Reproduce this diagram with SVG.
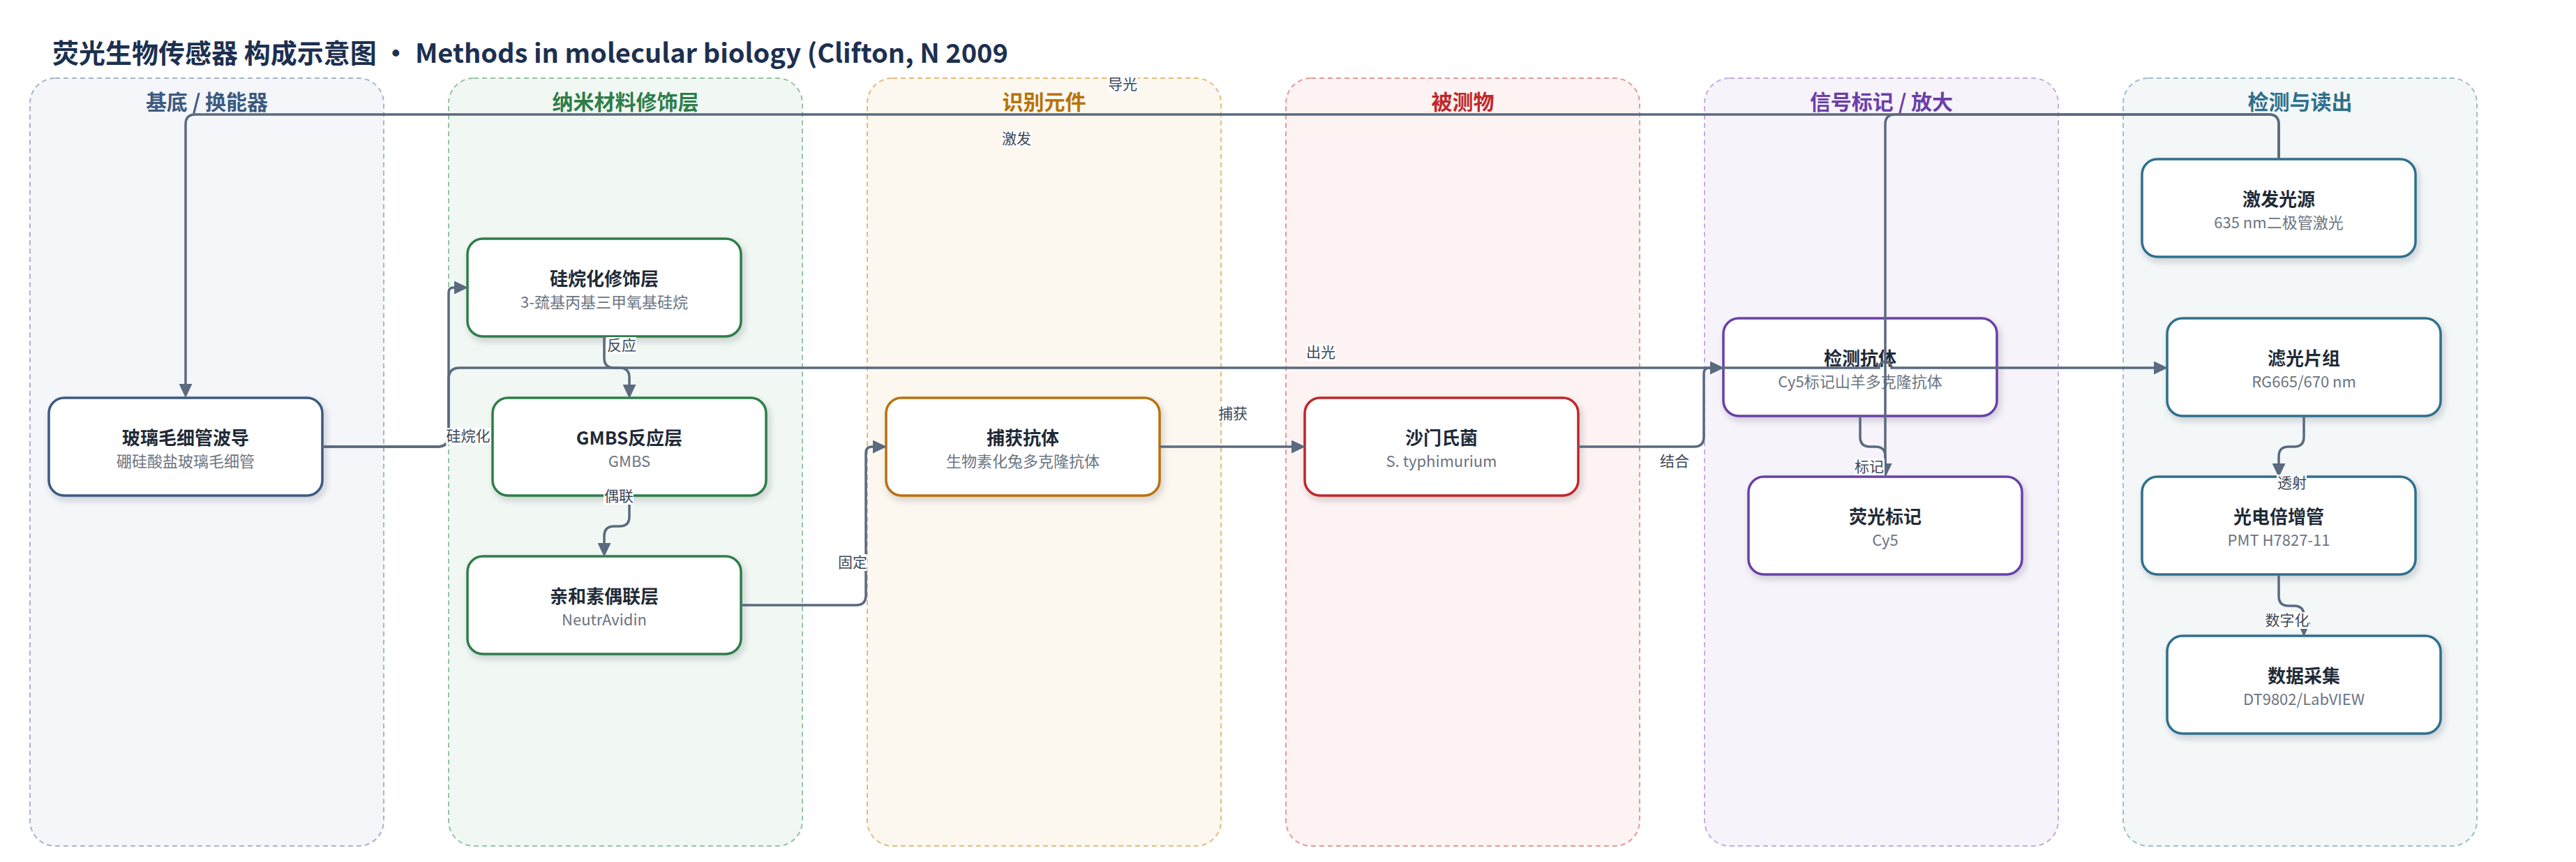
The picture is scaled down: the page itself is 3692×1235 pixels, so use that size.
<svg xmlns="http://www.w3.org/2000/svg" width="3692" height="1235" viewBox="0 0 3692 1235">
<defs>
<filter id="sh" x="-10%" y="-15%" width="125%" height="145%">
<feDropShadow dx="3" dy="5" stdDeviation="5" flood-color="#1e293b" flood-opacity="0.2"/>
</filter>
<marker id="arr" markerUnits="userSpaceOnUse" markerWidth="20" markerHeight="19" viewBox="0 0 20 19" refX="1" refY="9.5" orient="auto">
<path d="M0,0 L20,9.5 L0,19 z" fill="#5a6a80"/>
</marker>
<style>
text{font-family:"Noto Sans CJK SC","Noto Sans",sans-serif}
.title{font-size:38px;font-weight:700;fill:#1c3050}
.lane{stroke-width:2;stroke-dasharray:7 5}
.lt{font-size:30px;font-weight:700;text-anchor:middle}
.box{fill:#ffffff;stroke-width:3.5;filter:url(#sh)}
.nt{font-size:26px;font-weight:700;fill:#1f2a37;text-anchor:middle}
.ns{font-size:22px;fill:#6b7482;text-anchor:middle}
.e{fill:none;stroke:#5a6a80;stroke-width:3.5}
.lb{font-size:21px;fill:#3d4757;text-anchor:middle}
.lbg{fill:#ffffff}
</style>
</defs>
<rect width="3692" height="1235" fill="#ffffff"/>
<text class="title" x="75" y="90">荧光生物传感器 构成示意图 · Methods in molecular biology (Clifton, N 2009</text>

<g id="lanes">
<g id="lane-substrate">
<rect class="lane" x="43" y="112" width="507" height="1100" rx="36" fill="#f4f6fa" stroke="#a7b4c9"/>
<text class="lt" x="296.5" y="157" fill="#3d5a80">基底 / 换能器</text>
</g>
<g id="lane-nano">
<rect class="lane" x="643" y="112" width="507" height="1100" rx="36" fill="#f1f8f3" stroke="#93c4a3"/>
<text class="lt" x="896.5" y="157" fill="#2e7d4a">纳米材料修饰层</text>
</g>
<g id="lane-recog">
<rect class="lane" x="1243" y="112" width="507" height="1100" rx="36" fill="#fdf8ef" stroke="#e2bb7c"/>
<text class="lt" x="1496.5" y="157" fill="#b8720a">识别元件</text>
</g>
<g id="lane-analyte">
<rect class="lane" x="1843" y="112" width="507" height="1100" rx="36" fill="#fdf3f2" stroke="#e29a98"/>
<text class="lt" x="2096.5" y="157" fill="#c0282a">被测物</text>
</g>
<g id="lane-label">
<rect class="lane" x="2443" y="112" width="507" height="1100" rx="36" fill="#f7f3fb" stroke="#c3aee0"/>
<text class="lt" x="2696.5" y="157" fill="#6a3fa8">信号标记 / 放大</text>
</g>
<g id="lane-readout">
<rect class="lane" x="3043" y="112" width="507" height="1100" rx="36" fill="#f3f7f8" stroke="#9dbfcc"/>
<text class="lt" x="3296.5" y="157" fill="#2f6f8c">检测与读出</text>
</g>
</g>

<g id="nodes">
<g id="n-waveguide">
<rect class="box" x="70" y="570" width="392" height="140" rx="22" stroke="#3d5a80"/>
<text class="nt" x="266" y="637">玻璃毛细管波导</text>
<text class="ns" x="266" y="669">硼硅酸盐玻璃毛细管</text>
</g>
<g id="n-silane">
<rect class="box" x="670" y="342" width="392" height="140" rx="22" stroke="#2e7d4a"/>
<text class="nt" x="866" y="409">硅烷化修饰层</text>
<text class="ns" x="866" y="441">3-巯基丙基三甲氧基硅烷</text>
</g>
<g id="n-gmbs">
<rect class="box" x="706" y="570" width="392" height="140" rx="22" stroke="#2e7d4a"/>
<text class="nt" x="902" y="637">GMBS反应层</text>
<text class="ns" x="902" y="669">GMBS</text>
</g>
<g id="n-avidin">
<rect class="box" x="670" y="797" width="392" height="140" rx="22" stroke="#2e7d4a"/>
<text class="nt" x="866" y="864">亲和素偶联层</text>
<text class="ns" x="866" y="896">NeutrAvidin</text>
</g>
<g id="n-capture">
<rect class="box" x="1270" y="570" width="392" height="140" rx="22" stroke="#b8720a"/>
<text class="nt" x="1466" y="637">捕获抗体</text>
<text class="ns" x="1466" y="669">生物素化兔多克隆抗体</text>
</g>
<g id="n-salmonella">
<rect class="box" x="1870" y="570" width="392" height="140" rx="22" stroke="#c0282a"/>
<text class="nt" x="2066" y="637">沙门氏菌</text>
<text class="ns" x="2066" y="669">S. typhimurium</text>
</g>
<g id="n-detect">
<rect class="box" x="2470" y="456" width="392" height="140" rx="22" stroke="#6a3fa8"/>
<text class="nt" x="2666" y="523">检测抗体</text>
<text class="ns" x="2666" y="555">Cy5标记山羊多克隆抗体</text>
</g>
<g id="n-fluor">
<rect class="box" x="2506" y="683" width="392" height="140" rx="22" stroke="#6a3fa8"/>
<text class="nt" x="2702" y="750">荧光标记</text>
<text class="ns" x="2702" y="782">Cy5</text>
</g>
<g id="n-laser">
<rect class="box" x="3070" y="228" width="392" height="140" rx="22" stroke="#2f6f8c"/>
<text class="nt" x="3266" y="295">激发光源</text>
<text class="ns" x="3266" y="327">635 nm二极管激光</text>
</g>
<g id="n-filter">
<rect class="box" x="3106" y="456" width="392" height="140" rx="22" stroke="#2f6f8c"/>
<text class="nt" x="3302" y="523">滤光片组</text>
<text class="ns" x="3302" y="555">RG665/670 nm</text>
</g>
<g id="n-pmt">
<rect class="box" x="3070" y="683" width="392" height="140" rx="22" stroke="#2f6f8c"/>
<text class="nt" x="3266" y="750">光电倍增管</text>
<text class="ns" x="3266" y="782">PMT H7827-11</text>
</g>
<g id="n-daq">
<rect class="box" x="3106" y="911" width="392" height="140" rx="22" stroke="#2f6f8c"/>
<text class="nt" x="3302" y="978">数据采集</text>
<text class="ns" x="3302" y="1010">DT9802/LabVIEW</text>
</g>
</g>

<g id="connectors">
<path class="e" marker-end="url(#arr)" d="M3266 228 L3266 178 Q3266 164 3252 164 L280 164 Q266 164 266 178 L266 551"/>
<path class="e" marker-end="url(#arr)" d="M3266 228 L3266 178 Q3266 164 3252 164 L2716 164 Q2702 164 2702 178 L2702 665"/>
<path class="e" marker-end="url(#arr)" d="M462 640 L627 640 Q643 640 643 624 L643 419 Q643 412 650 412 L652 412"/>
<path class="e" marker-end="url(#arr)" d="M462 640 L627 640 Q643 640 643 624 L643 543 Q643 527 659 527 L2693 527 A9 9 0 0 1 2711 527 L3088 527"/>
<path class="e" marker-end="url(#arr)" d="M866 482 L866 513 Q866 527 880 527 L888 527 Q902 527 902 541 L902 552"/>
<path class="e" marker-end="url(#arr)" d="M902 710 L902 740 Q902 754 888 754 L880 754 Q866 754 866 768 L866 779"/>
<path class="e" marker-end="url(#arr)" d="M1062 867 L1227 867 Q1241 867 1241 853 L1241 649 Q1241 640 1250 640 L1252 640"/>
<path class="e" marker-end="url(#arr)" d="M1662 640 L1852 640"/>
<path class="e" marker-end="url(#arr)" d="M2262 640 L2428 640 Q2442 640 2442 626 L2442 535 Q2442 527 2450 527 L2452 527"/>
<path class="e" marker-end="url(#arr)" d="M2666 596 L2666 626 Q2666 640 2680 640 L2688 640 Q2702 640 2702 654 L2702 665"/>
<path class="e" marker-end="url(#arr)" d="M3302 596 L3302 626 Q3302 640 3288 640 L3280 640 Q3266 640 3266 654 L3266 665"/>
<path class="e" marker-end="url(#arr)" d="M3266 823 L3266 854 Q3266 868 3280 868 L3288 868 Q3302 868 3302 882 L3302 893"/>
</g>

<g id="edge-labels">
<rect class="lbg" x="1588" y="109" width="43" height="24"/><text class="lb" x="1609" y="128">导光</text>
<rect class="lbg" x="1436" y="187" width="43" height="24"/><text class="lb" x="1457" y="206">激发</text>
<rect class="lbg" x="639" y="613" width="64" height="24"/><text class="lb" x="671" y="632">硅烷化</text>
<rect class="lbg" x="1872" y="493" width="43" height="24"/><text class="lb" x="1893" y="512">出光</text>
<rect class="lbg" x="869" y="483" width="43" height="24"/><text class="lb" x="891" y="502">反应</text>
<rect class="lbg" x="865" y="699" width="43" height="24"/><text class="lb" x="887" y="718">偶联</text>
<rect class="lbg" x="1200" y="794" width="43" height="24"/><text class="lb" x="1222" y="813">固定</text>
<rect class="lbg" x="1745" y="581" width="43" height="24"/><text class="lb" x="1767" y="600">捕获</text>
<rect class="lbg" x="2378" y="649" width="43" height="24"/><text class="lb" x="2400" y="668">结合</text>
<rect class="lbg" x="2658" y="657" width="43" height="24"/><text class="lb" x="2679" y="676">标记</text>
<rect class="lbg" x="3263" y="680" width="43" height="24"/><text class="lb" x="3285" y="699">透射</text>
<rect class="lbg" x="3246" y="877" width="64" height="24"/><text class="lb" x="3278" y="896">数字化</text>
</g>
</svg>
